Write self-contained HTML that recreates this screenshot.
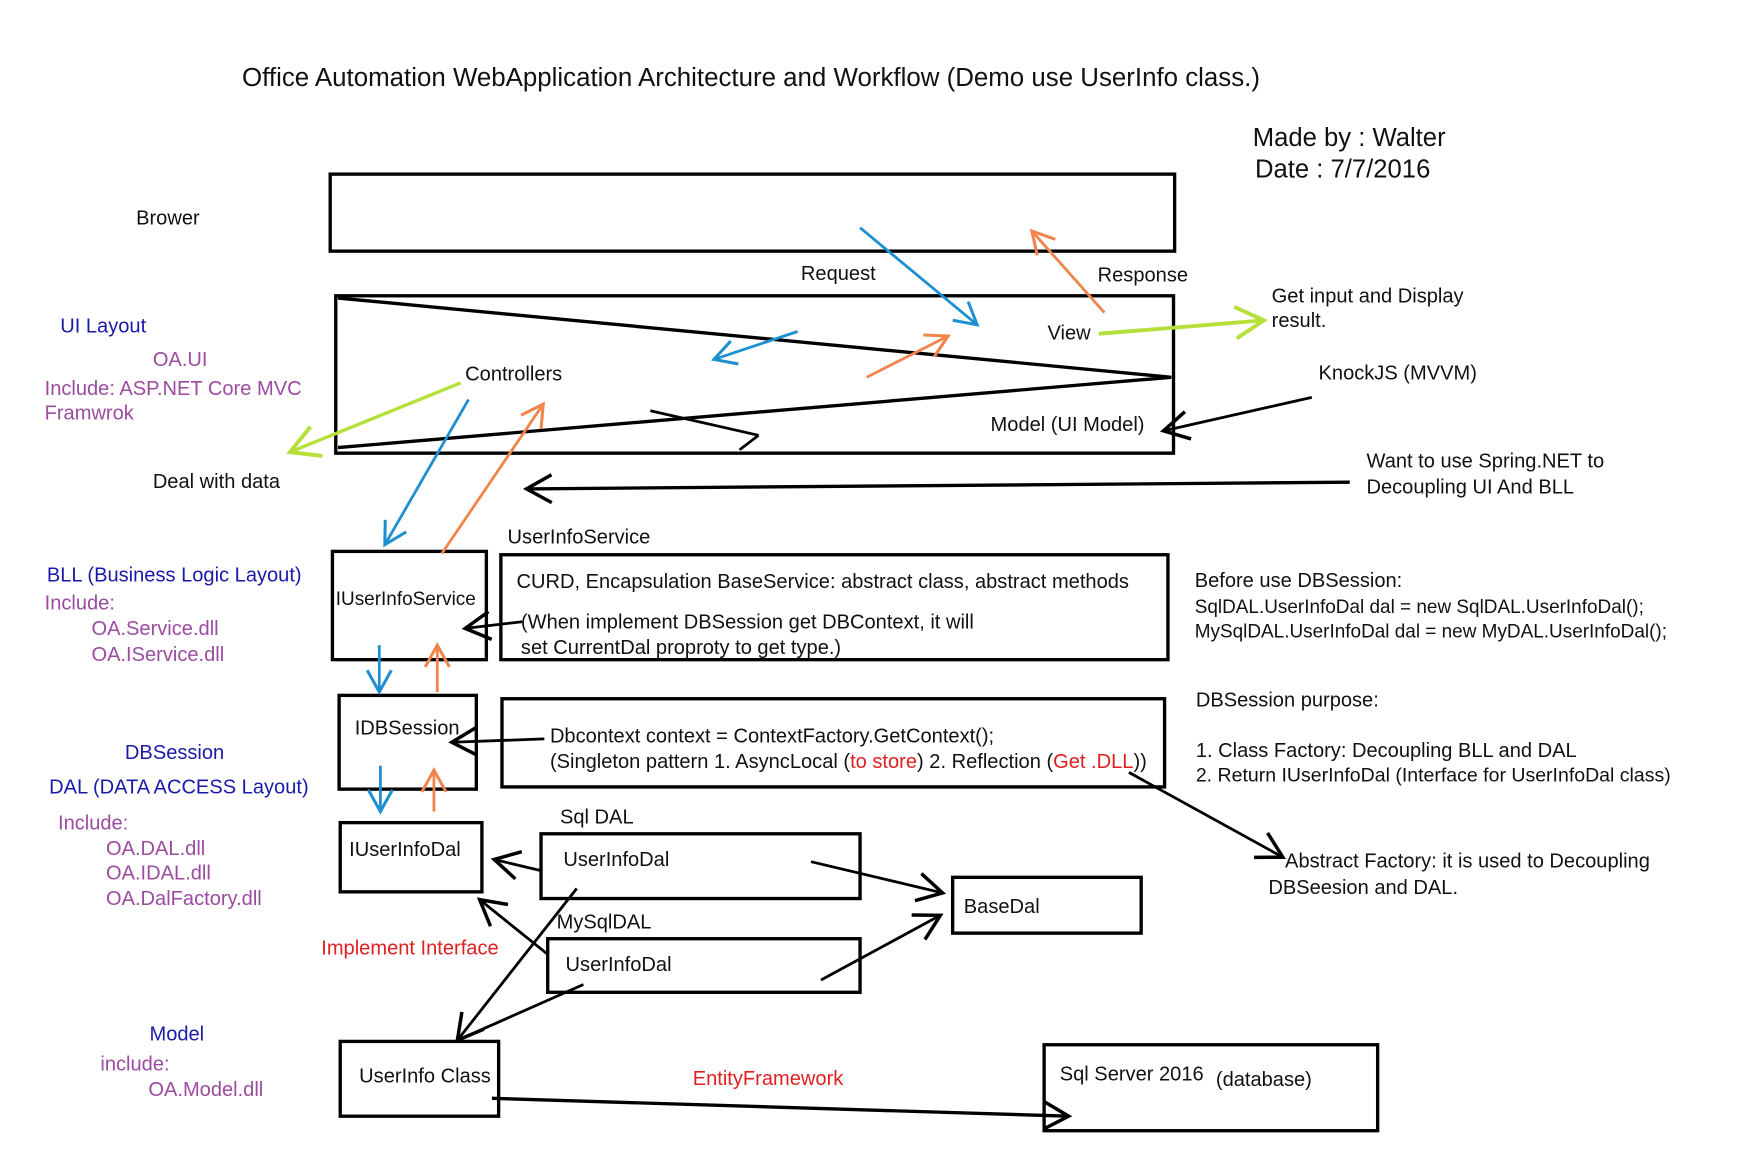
<!DOCTYPE html>
<html><head><meta charset="utf-8"><style>
html,body{margin:0;padding:0;background:#fff;}
svg{display:block;}
text{font-family:"Liberation Sans",sans-serif;font-size:18px;fill:#111;}
.b{fill:#1a1aa8}.p{fill:#9b4ca0}.r{fill:#e02020}
</style></head><body>
<svg width="1748" height="1172" viewBox="0 0 1567 1050" preserveAspectRatio="none" xmlns="http://www.w3.org/2000/svg">
<defs>
<marker id="k" markerUnits="userSpaceOnUse" markerWidth="30" markerHeight="30" refX="20" refY="12" orient="auto" viewBox="0 0 24 24"><path d="M2,2 L20,12 L2,22" fill="none" stroke="#000" stroke-width="2.5"/></marker>
<marker id="bl" markerUnits="userSpaceOnUse" markerWidth="26" markerHeight="26" refX="20" refY="12" orient="auto" viewBox="0 0 24 24"><path d="M2,2 L20,12 L2,22" fill="none" stroke="#1e8fd0" stroke-width="2.5"/></marker>
<marker id="or" markerUnits="userSpaceOnUse" markerWidth="26" markerHeight="26" refX="20" refY="12" orient="auto" viewBox="0 0 24 24"><path d="M2,2 L20,12 L2,22" fill="none" stroke="#f0844a" stroke-width="2.5"/></marker>
<marker id="gr" markerUnits="userSpaceOnUse" markerWidth="34" markerHeight="34" refX="20" refY="12" orient="auto" viewBox="0 0 24 24"><path d="M2,2 L20,12 L2,22" fill="none" stroke="#b5e03c" stroke-width="2.5"/></marker>
</defs>
<g fill="none" stroke="#000" stroke-width="3">
<rect x="296" y="156" width="757" height="69"/>
<rect x="301" y="265" width="751" height="141"/>
<rect x="298" y="494" width="138" height="97"/>
<rect x="449" y="497" width="598" height="94"/>
<rect x="304" y="623" width="123" height="84"/>
<rect x="450" y="626" width="594" height="79"/>
<rect x="305" y="737" width="127" height="62"/>
<rect x="485" y="747" width="286" height="58"/>
<rect x="854" y="786" width="169" height="50"/>
<rect x="491" y="841" width="280" height="48"/>
<rect x="305" y="933" width="142" height="67"/>
<rect x="936" y="936" width="299" height="77"/>
<line x1="303" y1="267" x2="1050" y2="338"/>
<line x1="1050" y1="338" x2="303" y2="401"/>
</g>
<g fill="none" stroke-width="2.5">
<line x1="771" y1="204" x2="876" y2="291" stroke="#1e8fd0" marker-end="url(#bl)"/>
<line x1="990" y1="280" x2="925" y2="207" stroke="#f0844a" marker-end="url(#or)"/>
<line x1="985" y1="299" x2="1133" y2="287" stroke="#b5e03c" stroke-width="3.5" marker-end="url(#gr)"/>
<line x1="413" y1="343" x2="260" y2="405" stroke="#b5e03c" stroke-width="3" marker-end="url(#gr)"/>
<line x1="715" y1="297" x2="640" y2="322" stroke="#1e8fd0" marker-end="url(#bl)"/>
<line x1="777" y1="338" x2="850" y2="301" stroke="#f0844a" marker-end="url(#or)"/>
<line x1="583" y1="368" x2="680" y2="390" stroke="#000"/>
<line x1="680" y1="390" x2="663" y2="403" stroke="#000"/>
<line x1="1176" y1="356" x2="1043" y2="386" stroke="#000" marker-end="url(#k)"/>
<line x1="1210" y1="432" x2="472" y2="438" stroke="#000" stroke-width="3" marker-end="url(#k)"/>
<line x1="420" y1="358" x2="345" y2="488" stroke="#1e8fd0" marker-end="url(#bl)"/>
<line x1="396" y1="496" x2="487" y2="362" stroke="#f0844a" marker-end="url(#or)"/>
<line x1="468" y1="557" x2="417" y2="563" stroke="#000" marker-end="url(#k)"/>
<line x1="340" y1="578" x2="340" y2="620" stroke="#1e8fd0" marker-end="url(#bl)"/>
<line x1="392" y1="620" x2="392" y2="578" stroke="#f0844a" marker-end="url(#or)"/>
<line x1="488" y1="662" x2="405" y2="665" stroke="#000" marker-end="url(#k)"/>
<line x1="341" y1="686" x2="341" y2="727" stroke="#1e8fd0" marker-end="url(#bl)"/>
<line x1="389" y1="727" x2="389" y2="690" stroke="#f0844a" marker-end="url(#or)"/>
<line x1="1012" y1="692" x2="1150" y2="768" stroke="#000" marker-end="url(#k)"/>
<line x1="485" y1="780" x2="443" y2="770" stroke="#000" marker-end="url(#k)"/>
<line x1="727" y1="772" x2="845" y2="800" stroke="#000" marker-end="url(#k)"/>
<line x1="491" y1="855" x2="430" y2="806" stroke="#000" marker-end="url(#k)"/>
<line x1="736" y1="878" x2="843" y2="820" stroke="#000" marker-end="url(#k)"/>
<line x1="517" y1="796" x2="410" y2="932" stroke="#000" marker-end="url(#k)"/>
<line x1="523" y1="882" x2="410" y2="932" stroke="#000"/>
<line x1="441" y1="984" x2="958" y2="1000" stroke="#000" stroke-width="3" marker-end="url(#k)"/>
</g>
<text x="217" y="77" style="font-size:23.2px">Office Automation WebApplication Architecture and Workflow (Demo use UserInfo class.)</text>
<text x="1123" y="131" style="font-size:23px">Made by : Walter</text>
<text x="1125" y="159" style="font-size:23px">Date : 7/7/2016</text>
<text x="122" y="201">Brower</text>
<text x="718" y="251">Request</text>
<text x="984" y="252">Response</text>
<text x="939" y="304">View</text>
<text x="1140" y="271">Get input and Display</text>
<text x="1140" y="293">result.</text>
<text x="417" y="341">Controllers</text>
<text x="1182" y="340">KnockJS (MVVM)</text>
<text x="888" y="386">Model (UI Model)</text>
<text class="b" x="54" y="298">UI Layout</text>
<text class="p" x="137" y="328">OA.UI</text>
<text class="p" x="40" y="354">Include: ASP.NET Core MVC</text>
<text class="p" x="40" y="376">Framwrok</text>
<text x="137" y="437">Deal with data</text>
<text x="1225" y="419">Want to use Spring.NET to</text>
<text x="1225" y="442">Decoupling UI And BLL</text>
<text x="455" y="487">UserInfoService</text>
<text x="301" y="542" style="font-size:17px">IUserInfoService</text>
<text x="463" y="527">CURD, Encapsulation BaseService: abstract class, abstract methods</text>
<text x="467" y="563">(When implement DBSession get DBContext, it will</text>
<text x="467" y="586">set CurrentDal proproty to get type.)</text>
<text class="b" x="42" y="521">BLL (Business Logic Layout)</text>
<text class="p" x="40" y="546">Include:</text>
<text class="p" x="82" y="569">OA.Service.dll</text>
<text class="p" x="82" y="592">OA.IService.dll</text>
<text x="1071" y="526">Before use DBSession:</text>
<text x="1071" y="549" style="font-size:17px">SqlDAL.UserInfoDal dal = new SqlDAL.UserInfoDal();</text>
<text x="1071" y="571" style="font-size:17px">MySqlDAL.UserInfoDal dal = new MyDAL.UserInfoDal();</text>
<text x="318" y="658">IDBSession</text>
<text x="493" y="665">Dbcontext context = ContextFactory.GetContext();</text>
<text x="493" y="688">(Singleton pattern 1. AsyncLocal (<tspan class="r">to store</tspan>) 2. Reflection (<tspan class="r">Get .DLL</tspan>))</text>
<text x="1072" y="633">DBSession purpose:</text>
<text x="1072" y="678">1. Class Factory: Decoupling BLL and DAL</text>
<text x="1072" y="700" style="font-size:17.5px">2. Return IUserInfoDal (Interface for UserInfoDal class)</text>
<text class="b" x="112" y="680">DBSession</text>
<text class="b" x="44" y="711">DAL (DATA ACCESS Layout)</text>
<text class="p" x="52" y="743">Include:</text>
<text class="p" x="95" y="766">OA.DAL.dll</text>
<text class="p" x="95" y="788">OA.IDAL.dll</text>
<text class="p" x="95" y="811">OA.DalFactory.dll</text>
<text x="1152" y="777">Abstract Factory:  it is used to Decoupling</text>
<text x="1137" y="801">DBSeesion and DAL.</text>
<text x="313" y="767">IUserInfoDal</text>
<text x="502" y="738">Sql DAL</text>
<text x="505" y="776">UserInfoDal</text>
<text x="864" y="818">BaseDal</text>
<text x="499" y="832">MySqlDAL</text>
<text x="507" y="870">UserInfoDal</text>
<text class="r" x="288" y="855">Implement Interface</text>
<text x="322" y="970">UserInfo Class</text>
<text class="r" x="621" y="972">EntityFramework</text>
<text x="950" y="968">Sql Server 2016</text>
<text x="1090" y="973">(database)</text>
<text class="b" x="134" y="932">Model</text>
<text class="p" x="90" y="959">include:</text>
<text class="p" x="133" y="982">OA.Model.dll</text>
</svg>
</body></html>
